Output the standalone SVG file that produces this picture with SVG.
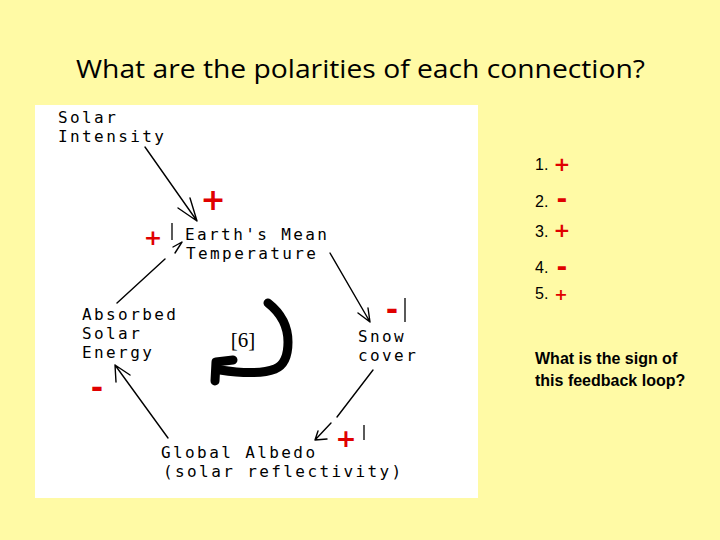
<svg xmlns="http://www.w3.org/2000/svg" width="720" height="540" viewBox="0 0 720 540">
<style>
.t{font-family:"DejaVu Sans Mono","Liberation Mono",monospace;font-size:16px;letter-spacing:2.4px;fill:#000}
.c{stroke:#000;stroke-width:1.4;fill:none;stroke-linecap:round;stroke-linejoin:round}
.sp{font-family:"DejaVu Sans",sans-serif;font-weight:bold;fill:#E00000;text-anchor:middle}
.lst{font-family:"Liberation Sans",Arial,sans-serif;font-size:16px;fill:#000}
.q{font-family:"Liberation Sans",Arial,sans-serif;font-size:16px;font-weight:bold;fill:#000}
.bar{stroke:#000;stroke-width:1.3}
</style>
<rect x="0" y="0" width="720" height="540" fill="#FFFAA5"/>
<text x="76" y="78" font-family="Open Sans, Liberation Sans, sans-serif" font-size="25" textLength="569" lengthAdjust="spacingAndGlyphs" fill="#000">What are the polarities of each connection?</text>
<rect x="35" y="105" width="443" height="393" fill="#FFFFFF"/>

<g id="solar-intensity"><text class="t" x="58" y="123">Solar</text><text class="t" x="58" y="142">Intensity</text></g>
<g id="earth-temp"><text class="t" x="185" y="240">Earth's Mean</text><text class="t" x="186" y="259">Temperature</text></g>
<g id="absorbed"><text class="t" x="82" y="320">Absorbed</text><text class="t" x="82" y="339">Solar</text><text class="t" x="82" y="358">Energy</text></g>
<g id="snow"><text class="t" x="358" y="342">Snow</text><text class="t" x="358" y="361">cover</text></g>
<g id="albedo"><text class="t" x="161" y="458">Global Albedo</text><text class="t" x="163" y="477">(solar reflectivity)</text></g>
<g id="loop-label"><text x="243" y="347" font-family="Liberation Serif, serif" font-size="21" text-anchor="middle" fill="#000">[6]</text></g>

<g id="connectors">
<path class="c" d="M145 147 L197 221 M190 198 L197 221 L178 208"/>
<path class="c" d="M117 303 L165 259 M175 253 L182 242 L173 247"/>
<path class="c" d="M330 253 L370 322 M358 313 L370 322 L368 308"/>
<path class="c" d="M373 370 L337 417 M331 423 L315 440 L327 439 M315 440 L318 431"/>
<path class="c" d="M168 438 L115 365 L116 382 M115 365 L130 375"/>
<path d="M268 303 C282 314 288 328 288 342 C288 355 285 365 275 369 C262 374 240 373 220 370" stroke="#000" stroke-width="9" fill="none" stroke-linecap="round" stroke-linejoin="round"/>
<path d="M233 360 L216 362 L215 381" stroke="#000" stroke-width="9" fill="none" stroke-linecap="round" stroke-linejoin="round"/>
</g>

<g id="polarity-marks">
<text class="sp" x="213" y="210" font-size="30">+</text>
<text class="sp" x="153" y="245" font-size="22">+</text>
<text class="sp" x="97" y="398" font-size="30">-</text>
<text class="sp" x="392" y="320" font-size="30">-</text>
<text class="sp" x="346" y="447" font-size="25">+</text>
<line class="bar" x1="172" y1="223" x2="172" y2="240"/>
<line class="bar" x1="405" y1="298" x2="405" y2="322"/>
<line class="bar" x1="364" y1="425" x2="364" y2="440"/>
</g>

<g id="answers">
<text class="lst" x="535" y="170">1.</text><text class="sp" x="562" y="171" font-size="20">+</text>
<text class="lst" x="535" y="207">2.</text><text class="sp" x="562" y="208" font-size="26">-</text>
<text class="lst" x="535" y="237">3.</text><text class="sp" x="562" y="237" font-size="20">+</text>
<text class="lst" x="535" y="273">4.</text><text class="sp" x="562" y="276" font-size="26">-</text>
<text class="lst" x="535" y="299">5.</text><text class="sp" x="561" y="300" font-size="16">+</text>
<text class="q" x="535" y="364">What is the sign of</text>
<text class="q" x="535" y="386">this feedback loop?</text>
</g>
</svg>
